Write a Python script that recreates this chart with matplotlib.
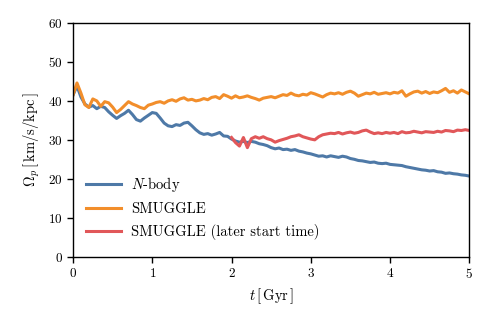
import matplotlib
matplotlib.use("Agg")
import matplotlib.pyplot as plt
import numpy as np

# Pattern speed vs time (step 0.05 Gyr)
t_full = np.linspace(0.0, 5.0, 101)
t_late = np.linspace(2.0, 5.0, 61)

nbody = [
    41.5, 43.8, 41.0, 39.2, 38.4, 38.8, 38.0, 38.6, 38.3, 37.2,
    36.3, 35.5, 36.2, 36.8, 37.6, 36.5, 35.2, 34.8, 35.6, 36.3,
    37.0, 36.8, 35.6, 34.3, 33.6, 33.4, 33.9, 33.7, 34.3, 34.5,
    33.6, 32.6, 31.8, 31.4, 31.6, 31.2, 31.5, 31.9, 31.0, 30.9,
    30.2, 29.7, 29.4, 29.6, 29.3, 29.6, 29.4, 29.0, 28.8, 28.5,
    28.0, 27.7, 27.9, 27.5, 27.6, 27.3, 27.5, 27.1, 26.9, 26.6,
    26.4, 26.1, 25.8, 25.9, 25.6, 25.9, 25.7, 25.5, 25.8, 25.6,
    25.2, 25.0, 24.7, 24.6, 24.4, 24.2, 24.3, 24.0, 23.9, 24.0,
    23.7, 23.6, 23.5, 23.4, 23.1, 22.9, 22.7, 22.5, 22.3, 22.2,
    22.0, 22.1, 21.8, 21.7, 21.4, 21.5, 21.3, 21.2, 21.0, 20.9,
    20.7,
]

smuggle = [
    41.5, 44.6, 42.0, 39.0, 38.3, 40.5, 40.0, 38.6, 39.8, 39.5,
    38.4, 37.0, 37.8, 38.8, 39.8, 39.2, 38.8, 38.3, 38.0, 38.9,
    39.2, 39.6, 39.8, 39.4, 40.0, 40.3, 39.9, 40.5, 40.8, 40.2,
    40.4, 40.0, 40.2, 40.6, 40.3, 40.9, 41.1, 40.6, 41.6, 41.2,
    40.7, 41.3, 40.8, 41.0, 41.3, 40.9, 40.6, 40.2, 40.7, 40.9,
    41.1, 40.8, 41.2, 41.6, 41.4, 42.0, 41.5, 41.3, 41.7, 41.5,
    42.1, 41.8, 41.4, 41.0, 41.6, 42.0, 41.8, 42.1, 41.7, 42.2,
    42.5, 42.0, 41.2, 41.6, 42.0, 41.8, 42.2, 41.7, 41.9, 42.1,
    41.8, 42.2, 42.0, 42.6, 41.2, 41.8, 42.3, 42.5, 42.0, 42.4,
    41.9, 42.3, 42.1, 42.6, 43.2, 42.2, 42.6, 42.0, 42.8, 42.3,
    41.8,
]

smuggle_late = [
    30.6, 29.3, 28.4, 30.6, 28.0, 30.3, 30.8, 30.4, 30.8, 30.3,
    30.0, 29.4, 29.8, 30.1, 30.4, 30.8, 31.0, 31.3, 30.8, 30.5,
    30.2, 30.0, 30.8, 31.3, 31.5, 31.7, 31.6, 31.9, 31.5, 31.8,
    32.0, 31.7, 31.9, 32.3, 32.5, 32.0, 31.6, 31.8, 31.6, 31.9,
    31.7, 31.9, 31.6, 32.1, 31.8, 31.9, 32.2, 32.0, 31.8, 32.1,
    32.0, 31.9, 32.2, 32.0, 32.4, 32.3, 32.1, 32.5, 32.4, 32.6,
    32.4,
]

plt.rcParams["font.family"] = "serif"
plt.rcParams["font.serif"] = ["cmr10", "DejaVu Serif"]
plt.rcParams["mathtext.fontset"] = "cm"
plt.rcParams["axes.unicode_minus"] = False
plt.rcParams["axes.formatter.use_mathtext"] = True

fig = plt.figure(figsize=(4.91, 3.27), dpi=100)
ax = fig.add_axes([0.1487, 0.215, 0.8071, 0.7147])

ax.plot(t_full, nbody, color="#4e79a7", lw=2.2, label=r"$N$-body")
ax.plot(t_full, smuggle, color="#f28e2b", lw=2.2, label="SMUGGLE")
ax.plot(t_late, smuggle_late, color="#e15759", lw=2.2,
        label="SMUGGLE (later start time)")

ax.set_xlim(0, 5)
ax.set_ylim(0, 60)
ax.set_xticks([0, 1, 2, 3, 4, 5])
ax.set_yticks([0, 10, 20, 30, 40, 50, 60])
ax.tick_params(direction="out", length=4, width=1, labelsize=9.5)
for s in ax.spines.values():
    s.set_linewidth(1)

ax.set_xlabel(r"$t\,[\,\mathrm{Gyr}\,]$", fontsize=10.5)
ax.set_ylabel(r"$\Omega_p\,[\,\mathrm{km/s/kpc}\,]$", fontsize=10.5)

ax.legend(loc="lower left", frameon=False, fontsize=10.5,
          handlelength=2.4, handletextpad=0.7, labelspacing=0.55,
          bbox_to_anchor=(0.0, 0.015))

fig.savefig("out.png", dpi=100)
